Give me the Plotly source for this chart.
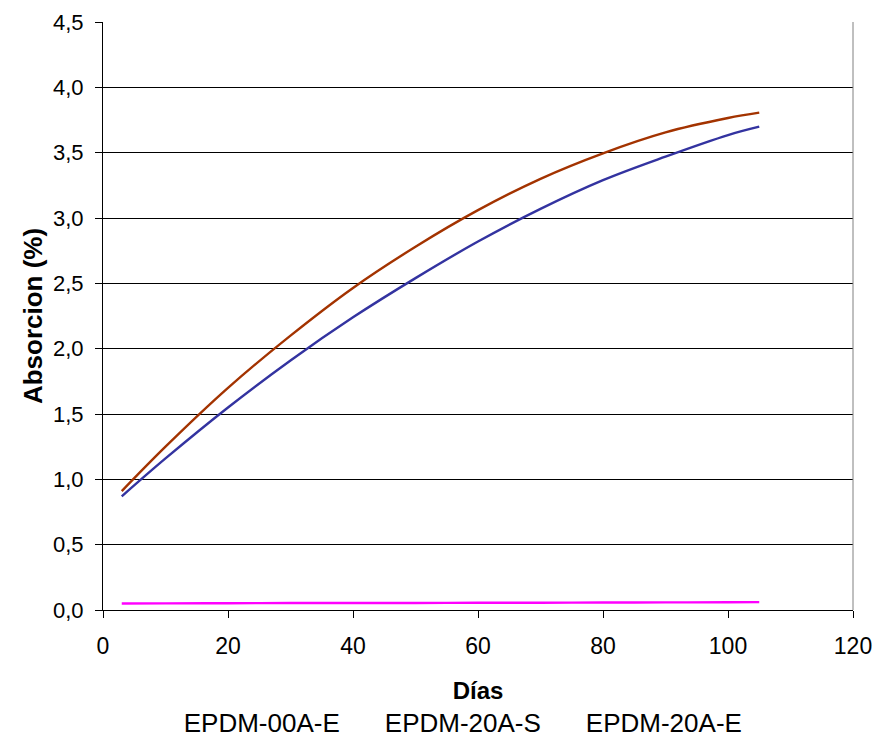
import plotly.graph_objects as go

dias = [3, 10, 20, 30, 40, 50, 60, 70, 80, 90, 100, 105]
epdm_00a_e = [0.050, 0.051, 0.052, 0.053, 0.053, 0.054, 0.055, 0.056, 0.057, 0.058, 0.059, 0.060]
epdm_20a_s = [0.87, 1.16, 1.55, 1.91, 2.24, 2.54, 2.82, 3.07, 3.29, 3.47, 3.635, 3.699]
epdm_20a_e = [0.91, 1.25, 1.70, 2.10, 2.465, 2.78, 3.06, 3.30, 3.495, 3.655, 3.765, 3.806]

series = [
    ("EPDM-00A-E", epdm_00a_e, "#FF00FF"),
    ("EPDM-20A-S", epdm_20a_s, "#3333A0"),
    ("EPDM-20A-E", epdm_20a_e, "#A33300"),
]

x_ticks = [0, 20, 40, 60, 80, 100, 120]
y_ticks = [0, 0.5, 1.0, 1.5, 2.0, 2.5, 3.0, 3.5, 4.0, 4.5]

FONT = "Liberation Sans, Arial, sans-serif"

fig = go.Figure()
for name, vals, color in series:
    fig.add_trace(go.Scatter(
        x=dias, y=vals, mode="lines", name=name, legendgroup=name,
        line=dict(color=color, width=2.4, shape="spline"),
        showlegend=False, hoverinfo="x+y+name",
    ))
# legend entries: text only (no line samples), as in the original
for name, vals, color in series:
    fig.add_trace(go.Scatter(
        x=[None], y=[None], mode="lines", name=name, legendgroup=name,
        line=dict(color="rgba(0,0,0,0)", width=0), showlegend=True,
    ))

fig.update_layout(
    width=875, height=748,
    margin=dict(l=103, r=22, t=22, b=138, autoexpand=False),
    paper_bgcolor="white", plot_bgcolor="white",
    separators=",.",
    font=dict(family=FONT, size=22, color="#000000"),
    showlegend=True,
    legend=dict(
        orientation="h", x=0.457, xanchor="center", y=-0.19, yanchor="middle",
        font=dict(family=FONT, size=26, color="#000000"),
        itemwidth=30, itemsizing="constant", traceorder="normal",
        bgcolor="rgba(0,0,0,0)",
    ),
    xaxis=dict(
        range=[0, 120], tickvals=x_ticks, ticktext=[str(v) for v in x_ticks],
        showgrid=False, zeroline=False,
        showline=True, linecolor="#000000", linewidth=1,
        ticks="outside", ticklen=7, tickcolor="#000000", tickwidth=1,
        tickfont=dict(family=FONT, size=23),
        ticklabelstandoff=8,
        title=dict(text="<b>Días</b>", font=dict(family=FONT, size=24), standoff=24),
    ),
    yaxis=dict(
        range=[0, 4.5], tickvals=y_ticks, tickformat=".1f",
        showgrid=True, gridcolor="#000000", gridwidth=1,
        zeroline=False,
        showline=True, linecolor="#000000", linewidth=1,
        ticks="outside", ticklen=7, tickcolor="#000000", tickwidth=1,
        tickfont=dict(family=FONT, size=22),
        ticklabelstandoff=7,
        title=dict(text="<b>Absorcion (%)</b>", font=dict(family=FONT, size=26), standoff=2),
    ),
    shapes=[dict(type="line", xref="paper", yref="paper", x0=1, x1=1, y0=0, y1=1,
                 line=dict(color="#808080", width=1))],
)

fig.write_html("out.html", config={"displayModeBar": False},
               post_script="document.body.style.margin='0';")
